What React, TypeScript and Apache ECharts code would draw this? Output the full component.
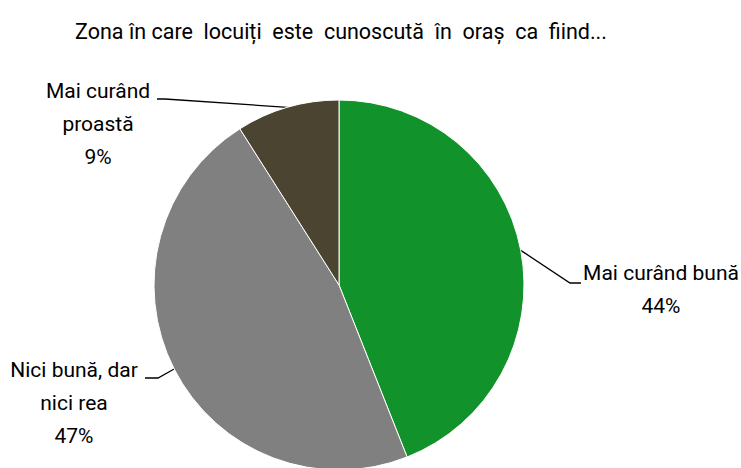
import React, { useEffect, useRef } from "react";
import * as echarts from "echarts";

const title = "Zona în care  locuiți  este  cunoscută  în  oraș  ca  fiind...";
const categories = ["Mai curând bună", "Nici bună, dar\nnici rea", "Mai curând\nproastă"];
const values = [44, 47, 9];
const colors = ["#12922b", "#808080", "#4b4430"];

const FONT = "Roboto, 'Liberation Sans Narrow', sans-serif";

export default function App() {
  const ref = useRef<HTMLDivElement>(null);
  useEffect(() => {
    if (!ref.current) return;
    const chart = echarts.init(ref.current, null, { renderer: "svg" });
    const labelPos = [
      { x: 661, y: 256, lx: 570, ly: 283, hx: 581 },
      { x: 74, y: 353, lx: 158, ly: 378, hx: 145 },
      { x: 98, y: 74, lx: 165, ly: 99, hx: 157 },
    ];
    chart.setOption({
      animation: false,
      title: {
        text: title,
        left: 336,
        top: 15,
        textAlign: "center",
        textStyle: {
          fontFamily: FONT,
          fontSize: 21.5,
          fontWeight: "normal",
          color: "#000",
        },
      },
      series: [
        {
          type: "pie",
          center: [339, 285],
          radius: 185,
          startAngle: 90,
          clockwise: true,
          data: categories.map((name, i) => ({
            name,
            value: values[i],
            itemStyle: { color: colors[i] },
          })),
          itemStyle: { borderColor: "#fff", borderWidth: 1 },
          label: {
            show: true,
            formatter: (p: any) => `${p.name}\n${p.value}%`,
            fontFamily: FONT,
            fontSize: 21,
            lineHeight: 33,
            color: "#000",
            align: "center",
            overflow: "none",
            width: 300,
          },
          labelLine: {
            show: true,
            lineStyle: { color: "#000", width: 1.3 },
          },
          labelLayout: (params: any) => {
            const lp = labelPos[params.dataIndex];
            const start = params.labelLinePoints ? params.labelLinePoints[0] : [lp.lx, lp.ly];
            return {
              x: lp.x,
              y: lp.y,
              align: "center",
              verticalAlign: "top",
              labelLinePoints: [start, [lp.lx, lp.ly], [lp.hx, lp.ly]],
            };
          },
        },
      ],
    });
    return () => chart.dispose();
  }, []);
  return (
    <div
      ref={ref}
      style={{ position: "fixed", left: 0, top: 0, width: 741, height: 468, background: "#fff" }}
    />
  );
}
